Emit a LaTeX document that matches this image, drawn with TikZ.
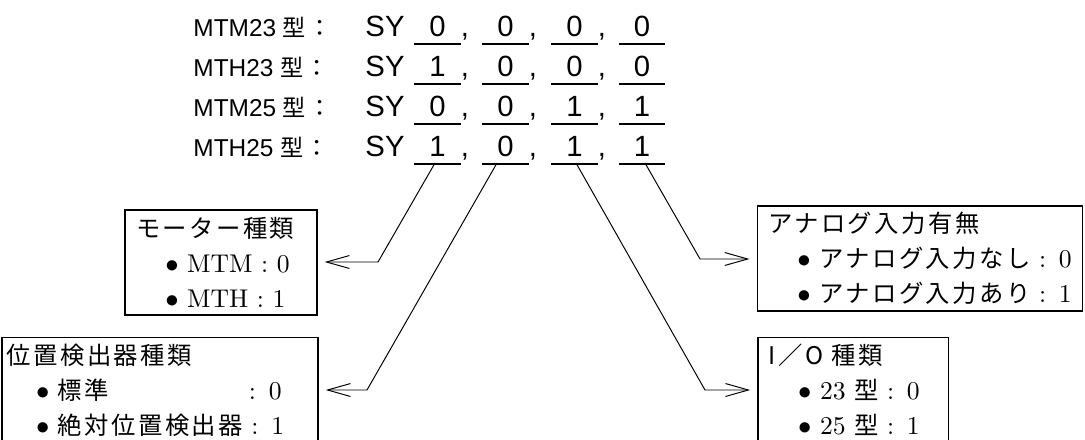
\documentclass[tikz,border=0pt]{standalone}
\usepackage{fontspec}
\newfontfamily\hdfont{Liberation Sans}
\newfontfamily\jp[Scale=0.95,LetterSpace=10]{Noto Sans CJK JP}
\usetikzlibrary{arrows.meta,positioning}
\newcommand{\itm}[1]{\mbox{\hspace*{12pt}$\bullet$ #1}}

\begin{document}
\begin{tikzpicture}[
  x=0.41pt, y=-0.41pt,
  lab/.style={anchor=base west, inner sep=0pt, font=\hdfont\fontsize{10}{12}\selectfont},
  code/.style={anchor=base, inner sep=0pt, font=\hdfont\fontsize{12}{14}\selectfont},
  dig/.style={code, minimum width=18.5pt, text depth=2.9pt},
  uline/.style={line width=0.8pt},
  kind/.style={draw, line width=0.5pt, align=left, inner xsep=4.5pt, inner ysep=0pt,
    minimum height=43pt, font=\fontsize{10.5}{14.35}\selectfont},
  conn/.style={line width=0.4pt, -{Straight Barb[length=9.4pt,width=5.3pt]}, shorten >=2.9pt}
]
  \useasboundingbox (0,0) rectangle (1085,439);

  % code rows
  \foreach \i/\mdl/\da/\db/\dc/\dd in {1/MTM23/0/0/0/0, 2/MTH23/1/0/0/0,
      3/MTM25/0/0/1/1, 4/MTH25/1/0/1/1}{
    \node[lab] (lab\i) at (193,{40*\i-4}) {\mdl\ {\jp 型：}};
    \node[code, anchor=base west] (sy\i) at (365,{40*\i-4}) {SY};
    \node[dig] (d\i1) at (437.5,{40*\i-4}) {\da};
    \node[dig] (d\i2) at (505.5,{40*\i-4}) {\db};
    \node[dig] (d\i3) at (574.5,{40*\i-4}) {\dc};
    \node[dig] (d\i4) at (642,{40*\i-4}) {\dd};
    \node[code] (k\i1) at (465,{40*\i-4}) {,};
    \node[code] (k\i2) at (533,{40*\i-4}) {,};
    \node[code] (k\i3) at (602,{40*\i-4}) {,};
    \foreach \j in {1,...,4}
      \draw[uline] (d\i\j.south west) -- (d\i\j.south east);
  }

  % meaning of each digit
  \node[kind, text width=69.7pt] (mt) at (221,262.5)
    {{\jp モーター種類}\\ \itm{MTM : 0}\\ \itm{MTH : 1}};
  \node[kind, text width=125.6pt, inner xsep=2pt] (ps) at (160,390)
    {{\jp 位置検出器種類}\\ \itm{{\jp 標準\hphantom{位置検出器}} : 0}\\
     \itm{{\jp 絶対位置検出器} : 1}};
  \node[kind, text width=124.5pt] (ai) at (920,258.5)
    {{\jp アナログ入力有無}\\ \itm{{\jp アナログ入力なし} : 0}\\
     \itm{{\jp アナログ入力あり} : 1}};
  \node[kind, text width=69pt] (io) at (853,390)
    {{\jp I／O 種類}\\ \itm{23 {\jp 型} : 0}\\ \itm{25 {\jp 型} : 1}};

  \coordinate (s1) at (435,163);
  \coordinate (t1) at (378,262);
  \coordinate (s2) at (497,163);
  \coordinate (t2) at (367,390);
  \coordinate (s3) at (576,163);
  \coordinate (t3) at (705,390);
  \coordinate (s4) at (645,163);
  \coordinate (t4) at (700,259);

  \draw[conn] (s1) -- (t1) -- (t1 -| mt.east);
  \draw[conn] (s2) -- (t2) -- (t2 -| ps.east);
  \draw[conn] (s3) -- (t3) -- (t3 -| io.west);
  \draw[conn] (s4) -- (t4) -- (t4 -| ai.west);

\end{tikzpicture}
\end{document}
